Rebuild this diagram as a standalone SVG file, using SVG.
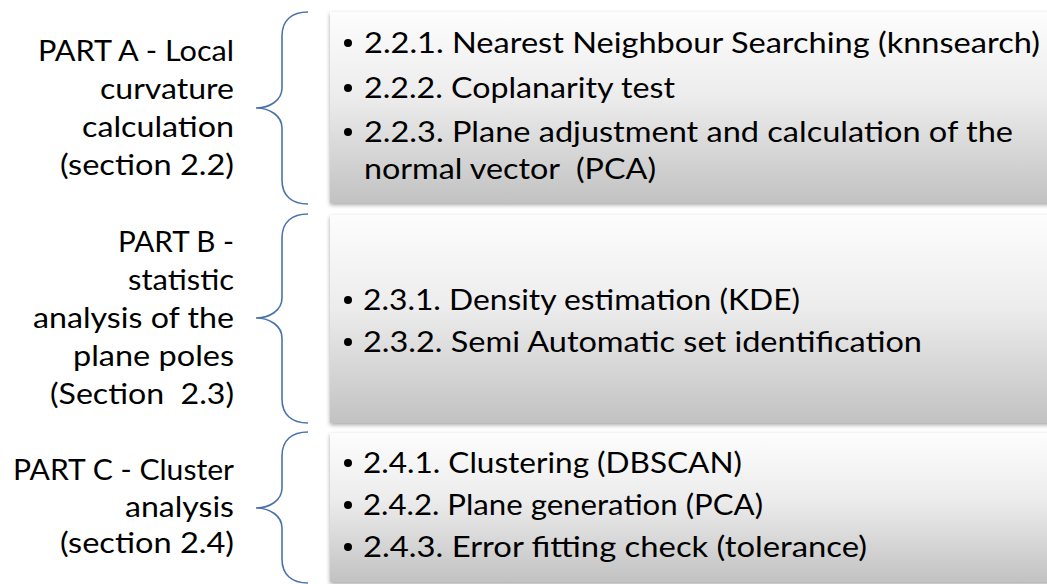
<svg xmlns="http://www.w3.org/2000/svg" width="1047" height="584" viewBox="0 0 1047 584">
  <defs>
    <linearGradient id="boxGrad" x1="0" y1="0" x2="0" y2="1">
      <stop offset="0" stop-color="#fdfdfd"/>
      <stop offset="0.45" stop-color="#ececec"/>
      <stop offset="1" stop-color="#c2c2c2"/>
    </linearGradient>
    <filter id="shadow" x="-5%" y="-10%" width="110%" height="125%">
      <feDropShadow dx="0" dy="2" stdDeviation="2" flood-color="#000" flood-opacity="0.35"/>
    </filter>
    <style>
      .box { fill: url(#boxGrad); filter: url(#shadow); }
      .brace { fill: none; stroke: #4a72ad; stroke-width: 1.6; }
      .lbl { font-family: Lato, "Open Sans", sans-serif; font-size: 29px; fill: #000; text-anchor: end; white-space: pre; }
      .item { font-family: Lato, "Open Sans", sans-serif; font-size: 29px; fill: #000; white-space: pre; }
      .bul { fill: #000; }
    </style>
  </defs>
  <rect width="1047" height="584" fill="#ffffff"/>

  <g id="connectors">
    <path class="brace" d="M308,12 C292,12 282,20 282,36 L282,88 C282,100 270,108 256,108 C270,108 282,116 282,128 L282,180 C282,196 292,204 308,204"/>
    <path class="brace" d="M308,214 C292,214 282,222 282,238 L282,298 C282,310 270,318 256,318 C270,318 282,326 282,338 L282,399 C282,415 292,423 308,423"/>
    <path class="brace" d="M308,432 C292,432 282,440 282,456 L282,488 C282,500 270,508 256,508 C270,508 282,516 282,528 L282,559 C282,575 292,583 308,583"/>
  </g>

  <g id="partA-label">
    <text class="lbl" x="234" y="61" textLength="196" lengthAdjust="spacingAndGlyphs">PART A - Local</text>
    <text class="lbl" x="234" y="99" textLength="134" lengthAdjust="spacingAndGlyphs">curvature</text>
    <text class="lbl" x="234" y="137" textLength="152" lengthAdjust="spacingAndGlyphs">calculation</text>
    <text class="lbl" x="234" y="175" textLength="174" lengthAdjust="spacingAndGlyphs">(section 2.2)</text>
  </g>

  <g id="partB-label">
    <text class="lbl" x="234" y="252" textLength="116" lengthAdjust="spacingAndGlyphs">PART B -</text>
    <text class="lbl" x="234" y="290" textLength="106" lengthAdjust="spacingAndGlyphs">statistic</text>
    <text class="lbl" x="234" y="328" textLength="201" lengthAdjust="spacingAndGlyphs">analysis of the</text>
    <text class="lbl" x="234" y="366" textLength="161" lengthAdjust="spacingAndGlyphs">plane poles</text>
    <text class="lbl" x="234" y="404" textLength="184" lengthAdjust="spacingAndGlyphs" xml:space="preserve">(Section  2.3)</text>
  </g>

  <g id="partC-label">
    <text class="lbl" x="234" y="480" textLength="221" lengthAdjust="spacingAndGlyphs">PART C - Cluster</text>
    <text class="lbl" x="234" y="517" textLength="109" lengthAdjust="spacingAndGlyphs">analysis</text>
    <text class="lbl" x="234" y="553" textLength="174" lengthAdjust="spacingAndGlyphs">(section 2.4)</text>
  </g>

  <g id="partA-box">
    <rect class="box" x="330" y="12" width="740" height="191"/>
    <circle class="bul" cx="348" cy="43" r="4"/>
    <text class="item" x="364" y="53" textLength="676" lengthAdjust="spacingAndGlyphs">2.2.1. Nearest Neighbour Searching (knnsearch)</text>
    <circle class="bul" cx="348" cy="88" r="4"/>
    <text class="item" x="364" y="98" textLength="311" lengthAdjust="spacingAndGlyphs">2.2.2. Coplanarity test</text>
    <circle class="bul" cx="348" cy="132" r="4"/>
    <text class="item" x="364" y="142" textLength="649" lengthAdjust="spacingAndGlyphs">2.2.3. Plane adjustment and calculation of the</text>
    <text class="item" x="364" y="179" textLength="292" lengthAdjust="spacingAndGlyphs" xml:space="preserve">normal vector  (PCA)</text>
  </g>

  <g id="partB-box">
    <rect class="box" x="330" y="215" width="740" height="208"/>
    <circle class="bul" cx="348" cy="300" r="4"/>
    <text class="item" x="363" y="310" textLength="437" lengthAdjust="spacingAndGlyphs">2.3.1. Density estimation (KDE)</text>
    <circle class="bul" cx="348" cy="342" r="4"/>
    <text class="item" x="363" y="352" textLength="559" lengthAdjust="spacingAndGlyphs">2.3.2. Semi Automatic set identification</text>
  </g>

  <g id="partC-box">
    <rect class="box" x="330" y="433" width="740" height="149"/>
    <circle class="bul" cx="348" cy="463" r="4"/>
    <text class="item" x="363" y="473" textLength="379" lengthAdjust="spacingAndGlyphs">2.4.1. Clustering (DBSCAN)</text>
    <circle class="bul" cx="348" cy="505" r="4"/>
    <text class="item" x="363" y="515" textLength="400" lengthAdjust="spacingAndGlyphs">2.4.2. Plane generation (PCA)</text>
    <circle class="bul" cx="348" cy="547" r="4"/>
    <text class="item" x="363" y="557" textLength="504" lengthAdjust="spacingAndGlyphs">2.4.3. Error fitting check (tolerance)</text>
  </g>
</svg>
